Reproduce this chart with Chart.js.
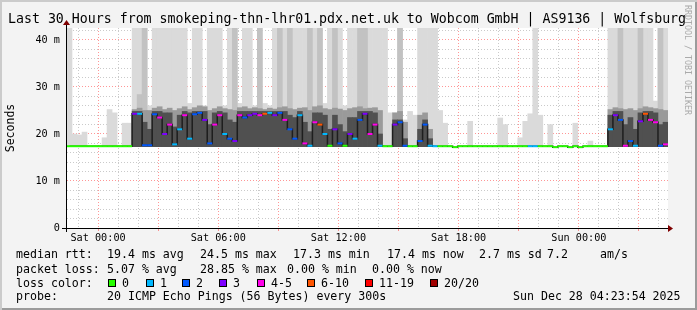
<!DOCTYPE html>
<html>
<head>
<meta charset="utf-8">
<script src="https://cdn.jsdelivr.net/npm/chart.js@4.4.1/dist/chart.umd.min.js"></script>
<style>
  html, body { margin: 0; padding: 0; background: #f3f3f3; }
  #frame {
    position: relative; width: 697px; height: 310px; background: #f3f3f3; overflow: hidden;
    box-shadow: inset 2px 2px 0 #cbcbcb, inset -2px -2px 0 #9b9b9b;
    font-family: "DejaVu Sans Mono", monospace; color: #000;
  }
  #chart { position: absolute; left: 0; top: 0; }
  .txt { position: absolute; white-space: pre; font-size: 11.6px; line-height: 14px; }
  #title { position: absolute; left: 8px; top: 11px; font-size: 13.25px; line-height: 16px; white-space: pre; }
  #credit {
    position: absolute; left: 683px; top: 5px; font-size: 8.3px; line-height: 10px;
    color: #aaaaaa; writing-mode: vertical-rl; white-space: pre;
  }
  .swatch { position: absolute; width: 6px; height: 6px; border: 1px solid #000; }
</style>
</head>
<body>
<div id="frame">
  <canvas id="chart" width="697" height="310"></canvas>
  <div id="title">Last 30 Hours from smokeping-thn-lhr01.pdx.net.uk to Wobcom GmbH | AS9136 | Wolfsburg</div>
  <div id="credit">RRDTOOL / TOBI OETIKER</div>
  <div id="legend"></div>
</div>
<script>
// --- time buckets: 15 min each, hours relative to Sat 00:00 ---
const X_START = -1.55;
const X_END = 28.45;
const STEP = 0.25;
const SMOKE_FLOOR = 17.3;   // min rtt (ms)

// median rtt per bucket (ms)
const median = [
  17.4,17.4,17.4,17.4,17.4,17.4,17.4,17.4,17.4,17.4,17.4,17.4,17.4,24.3,24.3,17.6,17.6,24.2,23.5,20.0,
  22.0,17.8,21.0,24.0,19.0,24.2,24.5,23.0,18.0,22.0,24.0,20.0,19.0,18.5,24.0,23.5,24.0,24.3,24.0,24.3,
  24.5,24.0,24.5,23.0,21.0,19.0,24.0,18.0,17.5,22.5,22.0,20.0,17.5,21.0,18.0,17.5,20.0,19.0,23.0,24.3,
  20.0,22.0,17.5,17.4,17.4,22.0,22.5,17.5,17.4,17.4,18.5,22.0,17.5,17.4,17.4,17.4,17.4,17.2,17.4,17.4,
  17.4,17.4,17.4,17.4,17.4,17.4,17.4,17.4,17.4,17.4,17.4,17.4,17.4,17.4,17.4,17.4,17.4,17.2,17.4,17.4,
  17.2,17.4,17.2,17.4,17.4,17.4,17.4,17.4,21.0,24.0,23.0,17.5,18.5,17.5,22.7,24.3,23.0,22.5,17.5,17.8
];
// loss colour class per bucket (index into lossLabels)
const lossIdx = [
  0,0,0,0,0,0,0,0,0,0,0,0,0,3,1,2,2,2,4,3,
  4,1,1,4,1,2,2,3,2,4,4,1,2,3,4,2,3,3,4,5,
  1,3,2,4,2,2,1,4,1,4,5,1,0,3,2,0,3,1,2,3,
  4,4,1,0,0,3,2,2,0,0,2,2,1,1,0,0,0,0,0,0,
  0,0,0,0,0,0,0,0,0,0,0,0,1,1,0,0,0,0,0,0,
  0,0,0,0,0,0,0,0,1,3,2,4,2,1,3,5,4,4,2,4
];
// smoke: slowest ping (light grey)
const maxRtt = [
  45,20.0,19.8,20.4,null,null,null,19.2,25.2,24.5,null,22.3,22.3,45,45,45,26.0,45,45,45,
  45,45,45,45,26.5,45,45,26.0,45,45,45,26.0,45,45,26.5,45,45,26.0,45,26.5,
  26.0,45,45,45,45,45,45,45,45,45,45,26.5,45,45,45,26.0,45,45,45,45,
  45,45,45,45,24.5,24.5,45,23.0,24.8,24.0,45,45,45,45,25.0,22.3,null,null,null,null,
  22.7,null,null,null,null,null,23.4,22.0,null,null,19.2,22.7,24.3,45,24.0,null,22.0,null,null,null,
  null,22.3,null,null,18.5,null,null,null,45,45,45,45,45,45,45,45,45,27.0,45,45
];
// smoke: second slowest pings (medium grey)
const highRtt = [
  null,null,null,null,null,null,null,null,null,null,null,null,null,null,28.4,45,null,null,null,null,
  null,null,null,null,null,null,null,null,null,null,null,null,null,45,null,null,null,null,45,null,
  null,null,45,null,45,null,null,null,45,null,45,null,null,45,null,null,null,null,45,45,
  null,null,null,null,null,null,45,null,null,null,null,null,null,null,null,null,null,null,null,null,
  null,null,null,null,null,null,null,null,null,null,null,null,null,null,null,null,null,null,null,null,
  null,null,null,null,null,null,null,null,null,null,45,null,null,null,45,null,null,null,45,null
];
// smoke: upper body (grey)
const upperRtt = [
  null,null,null,null,null,null,null,null,null,null,null,null,null,25.2,25.5,25.0,25.0,25.5,25.8,25.2,
  25.5,25.0,25.4,25.8,25.2,25.6,26.0,25.8,25.0,25.4,25.8,25.4,25.2,25.0,25.6,25.8,25.4,25.6,25.4,25.2,
  25.5,25.3,25.6,25.8,25.4,25.2,25.5,25.6,25.0,25.8,26.0,25.4,25.2,25.5,25.3,25.0,25.4,25.6,25.8,25.4,
  25.5,25.6,25.0,null,null,24.5,24.8,22.5,null,null,24.0,24.5,21.0,null,null,null,null,null,null,null,
  null,null,null,null,null,null,null,null,null,null,null,null,null,null,null,null,null,null,null,null,
  null,null,null,null,null,null,null,null,25.2,25.6,25.4,25.2,25.4,25.0,25.4,25.8,25.6,25.4,25.2,25.0
];
// smoke: dense core (dark grey)
const darkRtt = [
  null,null,null,null,null,null,null,null,null,null,null,null,null,24.8,24.8,22.5,21.0,24.8,24.8,24.5,
  24.5,21.5,24.0,24.8,24.5,24.8,24.8,24.8,22.0,24.5,24.8,24.5,23.0,22.5,24.8,24.8,24.8,24.8,24.8,24.8,
  24.8,24.8,24.8,24.8,24.0,23.5,24.8,22.5,20.5,24.5,24.5,24.0,21.0,24.0,22.0,20.5,23.5,23.5,24.8,24.8,
  24.8,24.5,20.0,null,null,23.0,23.0,19.0,null,null,21.0,23.0,19.0,null,null,null,null,null,null,null,
  null,null,null,null,null,null,null,null,null,null,null,null,null,null,null,null,null,null,null,null,
  null,null,null,null,null,null,null,null,24.0,24.8,24.8,22.0,23.5,21.0,24.5,24.8,24.8,24.5,22.0,22.5
];

const lossLabels = ['0', '1', '2', '3', '4-5', '6-10', '11-19', '20/20'];
const lossColors = ['#26ff00', '#00b8ff', '#0059ff', '#7e00ff', '#ff00ea', '#ff5500', '#ff0000', '#a10000'];

const xTickHours = [0, 6, 12, 18, 24];
const xTickLabels = ['Sat 00:00', 'Sat 06:00', 'Sat 12:00', 'Sat 18:00', 'Sun 00:00'];
const yTickValues = [0, 10, 20, 30, 40];
const yTickLabels = ['0', '10 m', '20 m', '30 m', '40 m'];

const legendLines = [
  [[16, 'median rtt:'], [107, '19.4 ms avg'], [200, '24.5 ms max'], [293, '17.3 ms min'], [387, '17.4 ms now'], [479, '2.7 ms sd'], [547, '7.2'], [600, 'am/s']],
  [[16, 'packet loss:'], [107, '5.07 % avg'], [200, '28.85 % max'], [287, '0.00 % min'], [372, '0.00 % now']],
  [[16, 'loss color:']],
  [[16, 'probe:'], [107, '20 ICMP Echo Pings (56 Bytes) every 300s'], [513, 'Sun Dec 28 04:23:54 2025']]
];
const legendCenters = [254, 268.5, 282.5, 296];
const swatchX = [108, 146, 182, 219, 257, 307, 365, 430];

// --- legend (html text) ---
const legendEl = document.getElementById('legend');
legendLines.forEach((line, row) => {
  line.forEach(([x, text]) => {
    const d = document.createElement('div');
    d.className = 'txt';
    d.style.left = x + 'px';
    d.style.top = (legendCenters[row] - 7) + 'px';
    d.textContent = text;
    legendEl.appendChild(d);
  });
});
lossLabels.forEach((label, i) => {
  const sw = document.createElement('div');
  sw.className = 'swatch';
  sw.style.left = swatchX[i] + 'px';
  sw.style.top = (legendCenters[2] - 4) + 'px';
  sw.style.background = lossColors[i];
  legendEl.appendChild(sw);
  const t = document.createElement('div');
  t.className = 'txt';
  t.style.left = (swatchX[i] + 14) + 'px';
  t.style.top = (legendCenters[2] - 7) + 'px';
  t.textContent = label;
  legendEl.appendChild(t);
});

// --- chart ---
const bucketTime = i => X_START + STEP * (i + 0.5);
const smoke = arr => arr.map((v, i) => v == null ? null : { x: bucketTime(i), y: [SMOKE_FLOOR, v] }).filter(p => p);
const medianPoints = median.map((v, i) => ({ x: bucketTime(i), y: v }));

const GRID_MINOR = 'rgba(150,150,150,0.5)';
const GRID_MAJOR = 'rgba(255,80,80,0.6)';
const tickFont = { family: 'DejaVu Sans Mono', size: 10.2 };
const isMajorHour = v => ((Math.round(v) % 3) + 3) % 3 === 0;

const smokeBar = (data, color, order) => ({
  type: 'bar', data, backgroundColor: color, borderWidth: 0, order,
  barPercentage: 1, categoryPercentage: 1, grouped: false
});

const chartFrame = {
  id: 'chartFrame',
  beforeDraw(chart) {
    const { ctx, chartArea: a } = chart;
    ctx.save();
    ctx.fillStyle = '#ffffff';
    ctx.fillRect(a.left, a.top, a.right - a.left, a.bottom - a.top);
    ctx.restore();
  },
  afterDraw(chart) {
    const { ctx, chartArea: a } = chart;
    ctx.save();
    ctx.fillStyle = '#000';
    ctx.fillRect(a.left - 1, a.top - 4, 1, a.bottom - a.top + 8);
    ctx.fillRect(a.left - 5, a.bottom, a.right - a.left + 5, 1);
    ctx.fillStyle = '#7f0000';
    ctx.beginPath();
    ctx.moveTo(a.left - 4, a.top - 3); ctx.lineTo(a.left + 3, a.top - 3); ctx.lineTo(a.left - 0.5, a.top - 8);
    ctx.fill();
    ctx.beginPath();
    ctx.moveTo(a.right, a.bottom - 3); ctx.lineTo(a.right, a.bottom + 4); ctx.lineTo(a.right + 5, a.bottom + 0.5);
    ctx.fill();
    ctx.restore();
  }
};

new Chart(document.getElementById('chart'), {
  type: 'bar',
  data: {
    datasets: [
      // median, coloured by packet loss
      {
        type: 'line', order: 0, data: medianPoints, showLine: false,
        pointStyle: 'line', pointRadius: 2.5, pointBorderWidth: 2, pointHoverRadius: 2.5,
        pointBorderColor: lossIdx.map(k => lossColors[k])
      },
      // vertical steps between medians
      {
        type: 'line', order: 1, data: medianPoints, stepped: 'middle',
        borderWidth: 1.5, borderColor: '#1e1e1e', pointRadius: 0
      },
      smokeBar(smoke(darkRtt), '#505050', 2),
      smokeBar(smoke(upperRtt), '#9a9a9a', 3),
      smokeBar(smoke(highRtt), '#c2c2c2', 4),
      smokeBar(smoke(maxRtt), '#dadada', 5)
    ]
  },
  options: {
    responsive: false,
    animation: false,
    devicePixelRatio: 1,
    layout: { padding: { top: 28, right: 29, left: 0, bottom: 0 } },
    plugins: { legend: { display: false }, tooltip: { enabled: false } },
    scales: {
      x: {
        type: 'linear', min: X_START, max: X_END, offset: false, z: 1,
        afterFit: s => { s.height = 82; },
        afterBuildTicks: s => {
          const ticks = [];
          for (let h = Math.ceil(X_START); h <= Math.floor(X_END); h++) ticks.push({ value: h });
          s.ticks = ticks;
        },
        border: { display: false, dash: [1, 2] },
        grid: {
          offset: false, tickLength: 3,
          color: c => (isMajorHour(c.tick.value) ? GRID_MAJOR : GRID_MINOR),
          tickColor: c => (isMajorHour(c.tick.value) ? GRID_MAJOR : 'rgba(0,0,0,0)')
        },
        ticks: {
          autoSkip: false, maxRotation: 0, minRotation: 0, padding: 1,
          color: '#000', font: tickFont,
          callback: v => {
            const k = xTickHours.findIndex(h => Math.abs(h - v) < 1e-6);
            return k >= 0 ? xTickLabels[k] : '';
          }
        }
      },
      y: {
        min: 0, max: 42.55, z: 1,
        afterFit: s => { s.width = 67; },
        border: { display: false, dash: [1, 2] },
        grid: {
          drawTicks: false,
          color: c => (Math.abs(c.tick.value % 10) < 1e-6 ? GRID_MAJOR : GRID_MINOR)
        },
        ticks: {
          stepSize: 2, maxTicksLimit: 60, includeBounds: false, autoSkip: false, padding: 7,
          color: '#000', font: tickFont,
          callback: v => {
            const k = yTickValues.findIndex(t => Math.abs(t - v) < 1e-6);
            return k >= 0 ? yTickLabels[k] : '';
          }
        },
        title: {
          display: true, text: 'Seconds', color: '#000',
          font: { family: 'DejaVu Sans Mono', size: 11.5 }, padding: { top: 4, bottom: 0 }
        }
      }
    }
  },
  plugins: [chartFrame]
});
</script>
</body>
</html>
